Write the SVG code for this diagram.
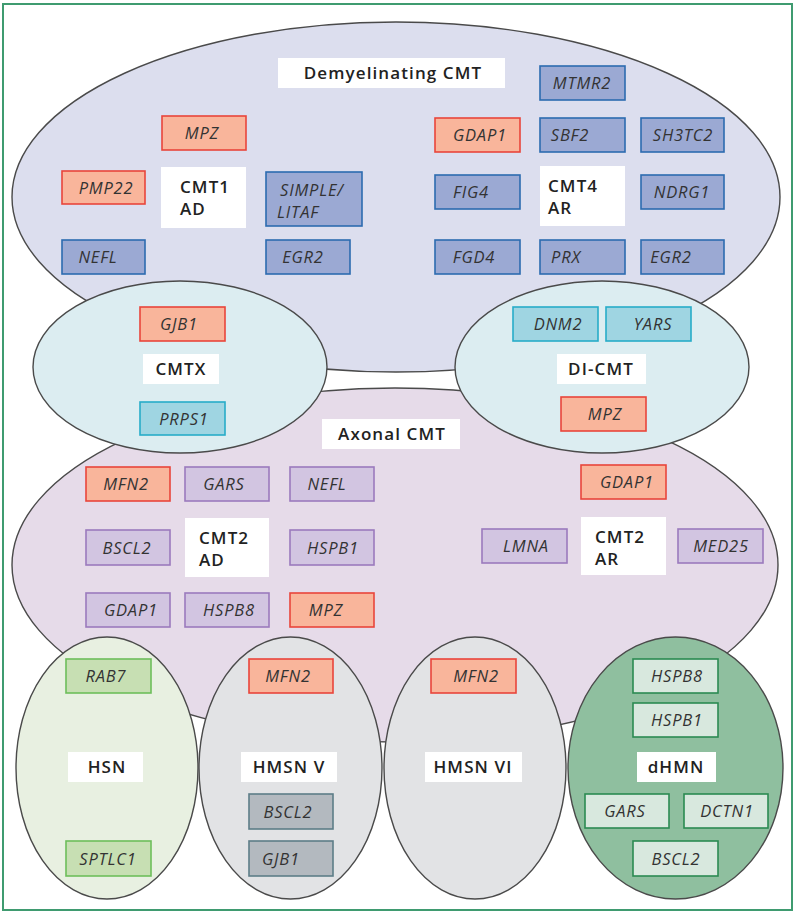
<svg xmlns="http://www.w3.org/2000/svg" width="795" height="913" viewBox="0 0 795 913">
<style>
.frame{fill:#ffffff;stroke:#3f9b70;stroke-width:2}
.ell{stroke:#4a4a4a;stroke-width:1.4}
.box{stroke-width:1.6}
.red{fill:#f9b59b;stroke:#e9453b}
.blue{fill:#9ba9d3;stroke:#2c6bb0}
.cyan{fill:#9fd5e2;stroke:#27acc9}
.purple{fill:#d2c5e1;stroke:#9b7abd}
.green{fill:#c7dfb3;stroke:#6dbe5b}
.gray{fill:#b3b9bf;stroke:#5d7d88}
.dg{fill:#d8e8de;stroke:#2b8a52}
.lab{fill:#ffffff;stroke:none}
.gt{font-family:"Open Sans","Liberation Sans",sans-serif;font-style:italic;font-size:16.5px;fill:#333333;text-anchor:middle;letter-spacing:0.8px}
.lt{font-family:"Open Sans","Liberation Sans",sans-serif;font-weight:600;font-size:17px;fill:#222222;letter-spacing:1.1px}
.mid{text-anchor:middle}
</style>
<rect class="frame" x="3" y="4" width="789" height="906"/>

<g id="demyelinating">
<ellipse class="ell" cx="396" cy="197" rx="384" ry="175" fill="#dcdeee"/>
<rect class="lab" x="278" y="58" width="227" height="30"/>
<text class="lt mid" x="393" y="79">Demyelinating CMT</text>
</g>
<g id="axonal">
<ellipse class="ell" cx="395" cy="565" rx="383" ry="177" fill="#e6dbe9"/>
<rect class="lab" x="322" y="419" width="138" height="30"/>
<text class="lt mid" x="392" y="440">Axonal CMT</text>
</g>
<g id="cmtx">
<ellipse class="ell" cx="180" cy="367" rx="147" ry="86" fill="#dcedf1"/>
<rect class="lab" x="143" y="354" width="76" height="30"/>
<text class="lt mid" x="181" y="375">CMTX</text>
</g>
<g id="dicmt">
<ellipse class="ell" cx="602" cy="367" rx="147" ry="86" fill="#dcedf1"/>
<rect class="lab" x="557" y="354" width="89" height="30"/>
<text class="lt mid" x="601" y="375">DI-CMT</text>
</g>
<g id="hsn">
<ellipse class="ell" cx="107" cy="768" rx="91" ry="131" fill="#e8f0e1"/>
<rect class="lab" x="68" y="752" width="75" height="30"/>
<text class="lt mid" x="107" y="773">HSN</text>
</g>
<g id="hmsn5">
<ellipse class="ell" cx="290.5" cy="768" rx="91.5" ry="131" fill="#e2e3e5"/>
<rect class="lab" x="241" y="752" width="96" height="30"/>
<text class="lt mid" x="289" y="773">HMSN V</text>
</g>
<g id="hmsn6">
<ellipse class="ell" cx="475" cy="768" rx="91" ry="131" fill="#e2e3e5"/>
<rect class="lab" x="425" y="752" width="97" height="30"/>
<text class="lt mid" x="473" y="773">HMSN VI</text>
</g>
<g id="dhmn">
<ellipse class="ell" cx="675.5" cy="768" rx="107.5" ry="131" fill="#8fbf9f"/>
<rect class="lab" x="637" y="752" width="79" height="30"/>
<text class="lt mid" x="676" y="773">dHMN</text>
</g>

<g id="cmt1ad">
<rect class="lab" x="161" y="167" width="85" height="61"/>
<text class="lt" x="180" y="193">CMT1</text>
<text class="lt" x="180" y="215">AD</text>
</g>
<g id="cmt4ar">
<rect class="lab" x="540" y="166" width="85" height="60"/>
<text class="lt" x="548" y="192">CMT4</text>
<text class="lt" x="548" y="214">AR</text>
</g>
<g id="cmt2ad">
<rect class="lab" x="185" y="518" width="84" height="59"/>
<text class="lt" x="199" y="544">CMT2</text>
<text class="lt" x="199" y="566">AD</text>
</g>
<g id="cmt2ar">
<rect class="lab" x="581" y="517" width="85" height="58"/>
<text class="lt" x="595" y="543">CMT2</text>
<text class="lt" x="595" y="565">AR</text>
</g>

<g id="g-mpz1"><rect class="box red" x="162" y="116" width="84" height="34"/><text class="gt" x="202" y="139">MPZ</text></g>
<g id="g-pmp22"><rect class="box red" x="62" y="171" width="83" height="33"/><text class="gt" x="106" y="194">PMP22</text></g>
<g id="g-simple"><rect class="box blue" x="266" y="172" width="96" height="54"/><text class="gt" x="312" y="196">SIMPLE/</text><text class="gt" x="298" y="218">LITAF</text></g>
<g id="g-nefl1"><rect class="box blue" x="62" y="240" width="83" height="34"/><text class="gt" x="98" y="263">NEFL</text></g>
<g id="g-egr2a"><rect class="box blue" x="266" y="240" width="84" height="34"/><text class="gt" x="303" y="263">EGR2</text></g>

<g id="g-mtmr2"><rect class="box blue" x="540" y="66" width="85" height="34"/><text class="gt" x="582" y="89">MTMR2</text></g>
<g id="g-gdap1a"><rect class="box red" x="435" y="118" width="85" height="34"/><text class="gt" x="480" y="141">GDAP1</text></g>
<g id="g-sbf2"><rect class="box blue" x="540" y="118" width="85" height="34"/><text class="gt" x="570" y="141">SBF2</text></g>
<g id="g-sh3tc2"><rect class="box blue" x="641" y="118" width="83" height="34"/><text class="gt" x="683" y="141">SH3TC2</text></g>
<g id="g-fig4"><rect class="box blue" x="435" y="175" width="85" height="34"/><text class="gt" x="471" y="198">FIG4</text></g>
<g id="g-ndrg1"><rect class="box blue" x="641" y="175" width="83" height="34"/><text class="gt" x="682" y="198">NDRG1</text></g>
<g id="g-fgd4"><rect class="box blue" x="435" y="240" width="85" height="34"/><text class="gt" x="474" y="263">FGD4</text></g>
<g id="g-prx"><rect class="box blue" x="540" y="240" width="85" height="34"/><text class="gt" x="566" y="263">PRX</text></g>
<g id="g-egr2b"><rect class="box blue" x="641" y="240" width="83" height="34"/><text class="gt" x="671" y="263">EGR2</text></g>

<g id="g-gjb1a"><rect class="box red" x="140" y="307" width="85" height="34"/><text class="gt" x="179" y="330">GJB1</text></g>
<g id="g-prps1"><rect class="box cyan" x="140" y="402" width="85" height="33"/><text class="gt" x="184" y="425">PRPS1</text></g>
<g id="g-dnm2"><rect class="box cyan" x="513" y="307" width="85" height="34"/><text class="gt" x="558" y="330">DNM2</text></g>
<g id="g-yars"><rect class="box cyan" x="606" y="307" width="85" height="34"/><text class="gt" x="653" y="330">YARS</text></g>
<g id="g-mpz2"><rect class="box red" x="561" y="397" width="85" height="34"/><text class="gt" x="605" y="420">MPZ</text></g>

<g id="g-mfn2a"><rect class="box red" x="86" y="467" width="84" height="34"/><text class="gt" x="126" y="490">MFN2</text></g>
<g id="g-gars1"><rect class="box purple" x="185" y="467" width="84" height="34"/><text class="gt" x="224" y="490">GARS</text></g>
<g id="g-nefl2"><rect class="box purple" x="290" y="467" width="84" height="34"/><text class="gt" x="327" y="490">NEFL</text></g>
<g id="g-bscl2a"><rect class="box purple" x="86" y="530" width="84" height="35"/><text class="gt" x="127" y="554">BSCL2</text></g>
<g id="g-hspb1a"><rect class="box purple" x="290" y="530" width="84" height="35"/><text class="gt" x="333" y="554">HSPB1</text></g>
<g id="g-gdap1b"><rect class="box purple" x="86" y="593" width="84" height="34"/><text class="gt" x="131" y="616">GDAP1</text></g>
<g id="g-hspb8a"><rect class="box purple" x="185" y="593" width="84" height="34"/><text class="gt" x="229" y="616">HSPB8</text></g>
<g id="g-mpz3"><rect class="box red" x="290" y="593" width="84" height="34"/><text class="gt" x="326" y="616">MPZ</text></g>

<g id="g-gdap1c"><rect class="box red" x="581" y="465" width="85" height="34"/><text class="gt" x="627" y="488">GDAP1</text></g>
<g id="g-lmna"><rect class="box purple" x="482" y="529" width="85" height="34"/><text class="gt" x="526" y="552">LMNA</text></g>
<g id="g-med25"><rect class="box purple" x="678" y="529" width="85" height="34"/><text class="gt" x="721" y="552">MED25</text></g>

<g id="g-rab7"><rect class="box green" x="66" y="659" width="85" height="34"/><text class="gt" x="106" y="682">RAB7</text></g>
<g id="g-sptlc1"><rect class="box green" x="66" y="841" width="85" height="35"/><text class="gt" x="108" y="865">SPTLC1</text></g>
<g id="g-mfn2b"><rect class="box red" x="249" y="659" width="84" height="34"/><text class="gt" x="288" y="682">MFN2</text></g>
<g id="g-bscl2b"><rect class="box gray" x="249" y="794" width="84" height="35"/><text class="gt" x="288" y="818">BSCL2</text></g>
<g id="g-gjb1b"><rect class="box gray" x="249" y="841" width="84" height="35"/><text class="gt" x="281" y="865">GJB1</text></g>
<g id="g-mfn2c"><rect class="box red" x="431" y="659" width="85" height="34"/><text class="gt" x="476" y="682">MFN2</text></g>
<g id="g-hspb8b"><rect class="box dg" x="633" y="659" width="85" height="34"/><text class="gt" x="677" y="682">HSPB8</text></g>
<g id="g-hspb1b"><rect class="box dg" x="633" y="703" width="85" height="34"/><text class="gt" x="677" y="726">HSPB1</text></g>
<g id="g-gars2"><rect class="box dg" x="585" y="794" width="84" height="34"/><text class="gt" x="625" y="817">GARS</text></g>
<g id="g-dctn1"><rect class="box dg" x="684" y="794" width="84" height="34"/><text class="gt" x="727" y="817">DCTN1</text></g>
<g id="g-bscl2c"><rect class="box dg" x="633" y="841" width="85" height="35"/><text class="gt" x="676" y="865">BSCL2</text></g>

<g id="connectors"></g>
</svg>
